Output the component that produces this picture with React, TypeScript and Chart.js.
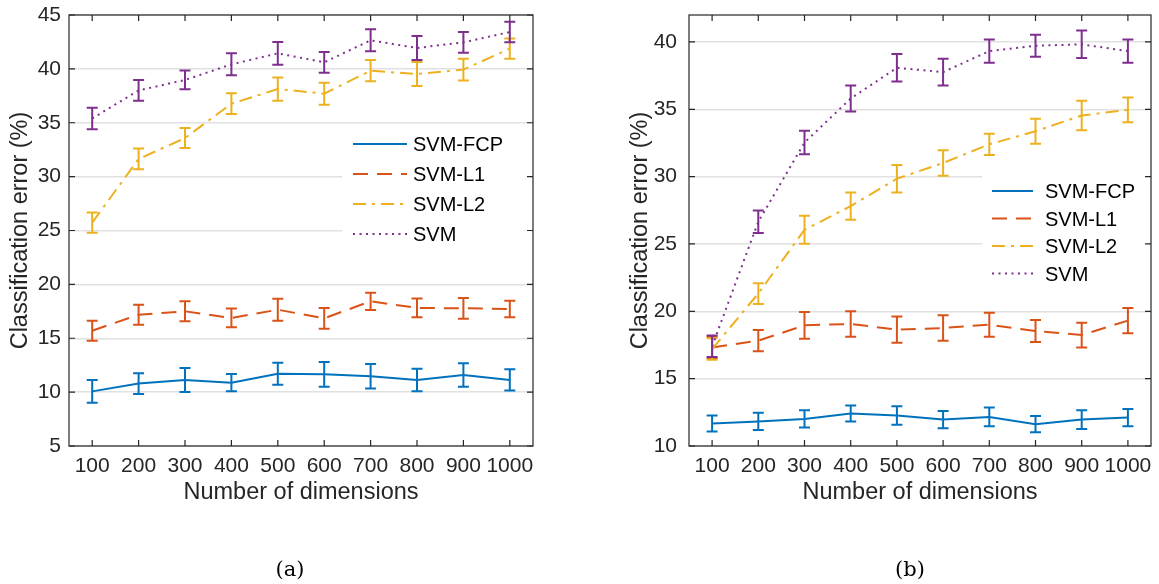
import React, { useEffect, useRef } from 'react';
import { Chart, registerables } from 'chart.js';

Chart.register(...registerables);

// ---------- data ----------
const categories = ['100', '200', '300', '400', '500', '600', '700', '800', '900', '1000'];
const seriesNames = ['SVM-FCP', 'SVM-L1', 'SVM-L2', 'SVM'];

// panel (a)
const fcpA = [10.07, 10.79, 11.13, 10.88, 11.71, 11.65, 11.47, 11.13, 11.59, 11.13];
const fcpAErr = [1.05, 0.96, 1.11, 0.8, 1.02, 1.14, 1.14, 1.05, 1.08, 0.99];
const l1A = [15.7, 17.19, 17.5, 16.88, 17.65, 16.85, 18.43, 17.81, 17.78, 17.71];
const l1AErr = [0.93, 0.93, 0.93, 0.87, 1.02, 0.96, 0.8, 0.87, 0.96, 0.77];
const l2A = [25.73, 31.64, 33.58, 36.77, 38.13, 37.7, 39.83, 39.52, 39.93, 41.88];
const l2AErr = [0.93, 0.96, 0.93, 0.96, 1.08, 1.02, 0.99, 1.11, 1.02, 0.93];
const svmA = [35.4, 38.0, 38.97, 40.42, 41.44, 40.61, 42.65, 41.94, 42.46, 43.42];
const svmAErr = [1.0, 0.96, 0.87, 1.02, 1.05, 0.96, 1.02, 1.11, 0.96, 0.96];
const yTicksA = [5, 10, 15, 20, 25, 30, 35, 40, 45];

// panel (b)
const fcpB = [11.67, 11.82, 12.01, 12.41, 12.26, 11.96, 12.16, 11.62, 11.96, 12.11];
const fcpBErr = [0.6, 0.64, 0.64, 0.6, 0.69, 0.64, 0.69, 0.6, 0.69, 0.64];
const l1B = [17.32, 17.82, 18.96, 19.06, 18.64, 18.76, 19.01, 18.54, 18.24, 19.31];
const l1BErr = [0.8, 0.79, 0.99, 0.94, 0.97, 0.94, 0.89, 0.82, 0.92, 0.94];
const l2B = [17.2, 21.32, 26.05, 27.81, 29.85, 31.01, 32.4, 33.37, 34.54, 34.96];
const l2BErr = [0.8, 0.77, 1.04, 1.02, 1.02, 0.94, 0.79, 0.92, 1.09, 0.92];
const svmB = [17.4, 26.65, 32.53, 35.8, 38.08, 37.76, 39.32, 39.72, 39.82, 39.32];
const svmBErr = [0.8, 0.84, 0.87, 0.97, 1.02, 0.99, 0.87, 0.82, 1.02, 0.87];
const yTicksB = [10, 15, 20, 25, 30, 35, 40];

// ---------- styles ----------
const COLORS = ['#0072BD', '#D95319', '#EDB120', '#7E2F8E'];
const DASHES: number[][] = [[], [15, 9], [13, 6, 3, 6], [2, 4.5]];
const SANS = "'Liberation Sans', Arial, Helvetica, sans-serif";
const AXIS_COLOR = '#262626';

const errorBarPlugin = {
  id: 'errbars',
  afterDatasetDraw(chart: any, args: any) {
    const ds = chart.data.datasets[args.index];
    const errs: number[] | undefined = ds.errors;
    if (!errs) return;
    const yScale = chart.scales.y;
    const ctx = chart.ctx;
    ctx.save();
    ctx.strokeStyle = ds.borderColor;
    ctx.lineWidth = 2;
    ctx.setLineDash([]);
    args.meta.data.forEach((pt: any, i: number) => {
      const v = ds.data[i];
      const e = errs[i];
      const x = pt.x;
      const yt = yScale.getPixelForValue(v + e);
      const yb = yScale.getPixelForValue(v - e);
      const c = 5.5;
      ctx.beginPath();
      ctx.moveTo(x, yt);
      ctx.lineTo(x, yb);
      ctx.moveTo(x - c, yt);
      ctx.lineTo(x + c, yt);
      ctx.moveTo(x - c, yb);
      ctx.lineTo(x + c, yb);
      ctx.stroke();
    });
    ctx.restore();
  },
};

const frameLegendPlugin = {
  id: 'frameLegend',
  afterDraw(chart: any, _args: any, opts: any) {
    const ctx = chart.ctx;
    const { left, right, top, bottom } = chart.chartArea;
    ctx.save();
    const lg = opts.legend;
    if (lg) {
      ctx.fillStyle = '#ffffff';
      ctx.fillRect(lg.bgX, lg.bgY, lg.bgW, lg.bgH);
      seriesNames.forEach((name, i) => {
        const y = lg.y0 + i * lg.step;
        ctx.strokeStyle = COLORS[i];
        ctx.lineWidth = 2;
        ctx.setLineDash(DASHES[i]);
        ctx.beginPath();
        ctx.moveTo(lg.x0, y);
        ctx.lineTo(lg.x1, y);
        ctx.stroke();
        ctx.setLineDash([]);
        ctx.fillStyle = '#000000';
        ctx.font = `20px ${SANS}`;
        ctx.textAlign = 'left';
        ctx.textBaseline = 'middle';
        ctx.fillText(name, lg.tx, y + 1.5);
      });
    }
    ctx.setLineDash([]);
    ctx.strokeStyle = AXIS_COLOR;
    ctx.lineWidth = 1.2;
    ctx.strokeRect(left, top, right - left, bottom - top);
    const tl = 6;
    ctx.beginPath();
    const xs = chart.scales.x;
    xs.ticks.forEach((_t: any, i: number) => {
      const x = xs.getPixelForTick(i);
      ctx.moveTo(x, bottom);
      ctx.lineTo(x, bottom - tl);
      ctx.moveTo(x, top);
      ctx.lineTo(x, top + tl);
    });
    const ys = chart.scales.y;
    ys.ticks.forEach((t: any) => {
      const y = ys.getPixelForValue(t.value);
      ctx.moveTo(left, y);
      ctx.lineTo(left + tl, y);
      ctx.moveTo(right, y);
      ctx.lineTo(right - tl, y);
    });
    ctx.stroke();
    ctx.restore();
  },
};

type PanelProps = {
  values: number[][];
  errors: number[][];
  yMin: number;
  yMax: number;
  yTicks: number[];
  width: number;
  axisW: number;
  padRight: number;
  yTitlePad: number;
  yTickPad: number;
  legend: any;
};

function Panel(p: PanelProps) {
  const ref = useRef<HTMLCanvasElement | null>(null);
  useEffect(() => {
    if (!ref.current) return;
    const chart = new Chart(ref.current, {
      type: 'line',
      data: {
        labels: categories,
        datasets: p.values.map((vals, i) => ({
          label: seriesNames[i],
          data: vals,
          errors: p.errors[i],
          borderColor: COLORS[i],
          backgroundColor: COLORS[i],
          borderWidth: 2,
          borderDash: DASHES[i],
          pointRadius: 0,
          tension: 0,
          fill: false,
          order: 3 - i,
        })) as any,
      },
      options: {
        responsive: false,
        animation: false,
        events: [],
        layout: { padding: { top: 15, right: p.padRight, left: 0, bottom: 0 } },
        plugins: {
          legend: { display: false },
          tooltip: { enabled: false },
          frameLegend: { legend: p.legend },
        } as any,
        scales: {
          x: {
            type: 'category',
            offset: true,
            grid: { display: false, drawTicks: false },
            border: { display: false },
            ticks: {
              color: AXIS_COLOR,
              font: { family: SANS, size: 21 },
              padding: 8,
              autoSkip: false,
              maxRotation: 0,
            },
            title: {
              display: true,
              text: 'Number of dimensions',
              color: AXIS_COLOR,
              font: { family: SANS, size: 23.5 },
              padding: { top: 0, bottom: 77 },
            },
            afterFit: (s: any) => {
              s.height = 138;
              s.paddingLeft = 0;
              s.paddingRight = 0;
            },
          },
          y: {
            min: p.yMin,
            max: p.yMax,
            grid: { color: '#e1e1e1', lineWidth: 1.5, drawTicks: false },
            border: { display: false },
            afterBuildTicks: (s: any) => {
              s.ticks = p.yTicks.map((v) => ({ value: v }));
            },
            ticks: {
              color: AXIS_COLOR,
              font: { family: SANS, size: 21 },
              padding: p.yTickPad,
            },
            title: {
              display: true,
              text: 'Classification error (%)',
              color: AXIS_COLOR,
              font: { family: SANS, size: 23.5 },
              padding: { top: p.yTitlePad, bottom: 0 },
            },
            afterFit: (s: any) => {
              s.width = p.axisW;
              s.paddingTop = 0;
              s.paddingBottom = 0;
            },
          },
        },
      } as any,
      plugins: [errorBarPlugin, frameLegendPlugin],
    });
    return () => chart.destroy();
  }, []);
  return <canvas ref={ref} width={p.width} height={584} style={{ display: 'block', width: p.width, height: 584 }} />;
}

const captionStyle: React.CSSProperties = {
  position: 'absolute',
  top: 555,
  width: 60,
  textAlign: 'center',
  fontFamily: "'DejaVu Serif', 'Liberation Serif', serif",
  fontSize: 21,
  color: '#000',
  lineHeight: '28px',
};

export default function App() {
  return (
    <div style={{ position: 'fixed', left: 0, top: 0, width: 1159, height: 584, background: '#fff' }}>
      <div style={{ position: 'absolute', left: 0, top: 0 }}>
        <Panel
          values={[fcpA, l1A, l2A, svmA]}
          errors={[fcpAErr, l1AErr, l2AErr, svmAErr]}
          yMin={5}
          yMax={45}
          yTicks={yTicksA}
          width={580}
          axisW={69}
          padRight={47}
          yTitlePad={6}
          yTickPad={8}
          legend={{ bgX: 342, bgY: 127, bgW: 189, bgH: 131, x0: 353, x1: 407, tx: 413, y0: 144, step: 30 }}
        />
      </div>
      <div style={{ position: 'absolute', left: 580, top: 0 }}>
        <Panel
          values={[fcpB, l1B, l2B, svmB]}
          errors={[fcpBErr, l1BErr, l2BErr, svmBErr]}
          yMin={10}
          yMax={42}
          yTicks={yTicksB}
          width={579}
          axisW={109}
          padRight={8}
          yTitlePad={46}
          yTickPad={12}
          legend={{ bgX: 402, bgY: 166, bgW: 168, bgH: 129, x0: 412, x1: 453, tx: 465, y0: 191, step: 27.5 }}
        />
      </div>
      <div style={{ ...captionStyle, left: 260 }}>(a)</div>
      <div style={{ ...captionStyle, left: 880 }}>(b)</div>
    </div>
  );
}
